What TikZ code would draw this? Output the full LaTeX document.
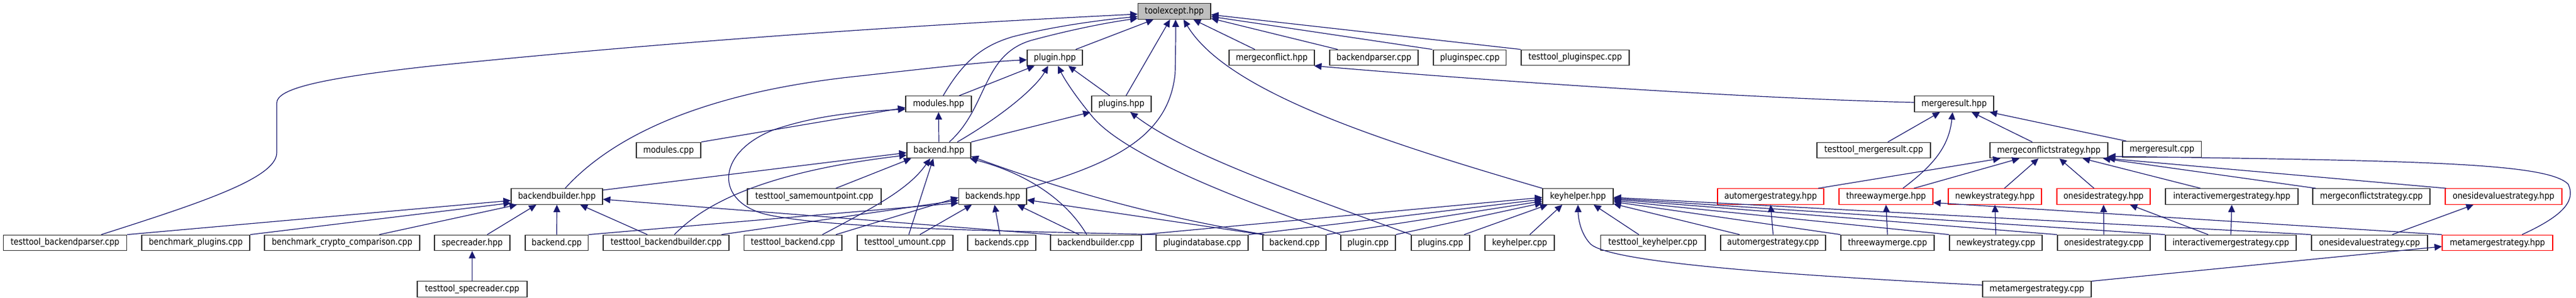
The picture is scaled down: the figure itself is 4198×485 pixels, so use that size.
\documentclass[tikz,border=0pt]{standalone}
\usepackage{fontspec}
\setmainfont{DejaVu Sans}[FakeStretch=0.88]
\usetikzlibrary{arrows.meta,calc}
\definecolor{edgec}{HTML}{191970}
\definecolor{boxc}{HTML}{303030}
\definecolor{fillg}{HTML}{BFBFBF}
\tikzset{
  filebox/.style={draw=boxc, line width=1.2pt, rectangle, minimum height=25.6pt, inner sep=0pt, fill=white, text=black, font=\fontsize{14.6pt}{17pt}\selectfont},
  redbox/.style={filebox, draw=red},
  inc/.style={draw=edgec, line width=1.2pt, -{Triangle[length=12pt,width=11pt]}}
}
\begin{document}
\begin{tikzpicture}[x=1pt,y=-1pt]
\fill[white] (0,0) rectangle (4198,485);
\useasboundingbox (0,0) rectangle (4198,485);
% row 0
\node[filebox, fill=fillg, minimum width=118.5pt] (toolexcept) at (1913.75,18.5) {toolexcept.hpp};
% row 1
\node[filebox, minimum width=90pt] (pluginh) at (1719,94) {plugin.hpp};
\node[filebox, minimum width=139pt] (mconf) at (2072.5,94) {mergeconflict.hpp};
\node[filebox, minimum width=144pt] (bparser) at (2239,94) {backendparser.cpp};
\node[filebox, minimum width=118.5pt] (pspec) at (2395.25,94) {pluginspec.cpp};
\node[filebox, minimum width=176pt] (ttpspec) at (2567,94) {testtool\_pluginspec.cpp};
% row 2
\node[filebox, minimum width=107pt] (modulesh) at (1529.5,169.5) {modules.hpp};
\node[filebox, minimum width=97pt] (pluginsh) at (1827.5,169.5) {plugins.hpp};
\node[filebox, minimum width=129pt] (mresh) at (3184.5,169.5) {mergeresult.hpp};
% row 3
\node[filebox, minimum width=105pt] (modcpp) at (1089.5,245) {modules.cpp};
\node[filebox, minimum width=104pt] (backendh) at (1530,245) {backend.hpp};
\node[filebox, minimum width=185pt] (ttmres) at (3053.5,245) {testtool\_mergeresult.cpp};
\node[filebox, minimum width=192pt] (mcsh) at (3339,245) {mergeconflictstrategy.hpp};
\node[filebox, minimum width=128.5pt] (mrescpp) at (3523.25,243.5) {mergeresult.cpp};
% row 4
\node[filebox, minimum width=149pt] (bbh) at (907.5,320.5) {backendbuilder.hpp};
\node[filebox, minimum width=218pt] (ttsmp) at (1327,320.5) {testtool\_samemountpoint.cpp};
\node[filebox, minimum width=110.5pt] (backendsh) at (1617.75,320.5) {backends.hpp};
\node[filebox, minimum width=115pt] (keyh) at (2571.5,320.5) {keyhelper.hpp};
\node[redbox, minimum width=173pt] (amh) at (2885.5,320.5) {automergestrategy.hpp};
\node[redbox, minimum width=153pt] (twh) at (3073.5,320.5) {threewaymerge.hpp};
\node[redbox, minimum width=152pt] (nkh) at (3251,320.5) {newkeystrategy.hpp};
\node[redbox, minimum width=152pt] (osh) at (3428,320.5) {onesidestrategy.hpp};
\node[filebox, minimum width=216pt] (imh) at (3637,320.5) {interactivemergestrategy.hpp};
\node[filebox, minimum width=191pt] (mcscpp) at (3864.5,320.5) {mergeconflictstrategy.cpp};
\node[redbox, minimum width=190pt] (osvh) at (4080,320.5) {onesidevaluestrategy.hpp};
% row 5
\node[filebox, minimum width=201.3pt] (ttbp) at (106,396) {testtool\_backendparser.cpp};
\node[filebox, minimum width=176pt] (benchp) at (319,396) {benchmark\_plugins.cpp};
\node[filebox, minimum width=253pt] (benchc) at (557.5,396) {benchmark\_crypto\_comparison.cpp};
\node[filebox, minimum width=123pt] (spech) at (769.5,396) {specreader.hpp};
\node[filebox, minimum width=102.5pt] (bcppa) at (907.25,396) {backend.cpp};
\node[filebox, minimum width=205pt] (ttbb) at (1085.5,396) {testtool\_backendbuilder.cpp};
\node[filebox, minimum width=159.5pt] (ttbackend) at (1292.25,396) {testtool\_backend.cpp};
\node[filebox, minimum width=156pt] (ttumount) at (1475,396) {testtool\_umount.cpp};
\node[filebox, minimum width=111pt] (backendscpp) at (1632.5,396) {backends.cpp};
\node[filebox, minimum width=148pt] (bbcpp) at (1786,396) {backendbuilder.cpp};
\node[filebox, minimum width=150pt] (plugdb) at (1959,396) {plugindatabase.cpp};
\node[filebox, minimum width=103pt] (bcppb) at (2109.5,396) {backend.cpp};
\node[filebox, minimum width=89pt] (plugincpp) at (2229.5,396) {plugin.cpp};
\node[filebox, minimum width=95pt] (pluginscpp) at (2347.5,396) {plugins.cpp};
\node[filebox, minimum width=113pt] (keycpp) at (2476.5,396) {keyhelper.cpp};
\node[filebox, minimum width=170.5pt] (ttkey) at (2693.75,396) {testtool\_keyhelper.cpp};
\node[filebox, minimum width=171pt] (amcpp) at (2889.5,396) {automergestrategy.cpp};
\node[filebox, minimum width=152pt] (twcpp) at (3076,396) {threewaymerge.cpp};
\node[filebox, minimum width=151pt] (nkcpp) at (3252.5,396) {newkeystrategy.cpp};
\node[filebox, minimum width=151pt] (oscpp) at (3428.5,396) {onesidestrategy.cpp};
\node[filebox, minimum width=213pt] (imcpp) at (3635.5,396) {interactivemergestrategy.cpp};
\node[filebox, minimum width=189pt] (osvcpp) at (3861.5,396) {onesidevaluestrategy.cpp};
\node[redbox, minimum width=180pt] (mmh) at (4070,396) {metamergestrategy.hpp};
% row 6
\node[filebox, minimum width=179pt] (ttspec) at (769.5,471.5) {testtool\_specreader.cpp};
\node[filebox, minimum width=177pt] (mmcpp) at (3319.5,471.5) {metamergestrategy.cpp};

% ---- edges to toolexcept.hpp
\draw[inc] ($(ttbp.north)+(59,0)$) .. controls (330,330) and (451,290) .. (451,249) -- (451,168) .. controls (451,145) and (520,128) .. (700,108) .. controls (1150,62) and (1550,38) .. ($(toolexcept.west)+(0,4.5)$);
\draw[inc] ($(modulesh.north)+(7.5,0)$) .. controls (1570,100) and (1600,75) .. (1650,60) .. controls (1720,42) and (1800,32) .. ($(toolexcept.west)+(0,8.5)$);
\draw[inc] ($(backendh.north)+(17,0)$) .. controls (1610,175) and (1600,90) .. (1680,66) .. controls (1750,47) and (1810,36) .. ($(toolexcept.west)+(0,11.5)$);
\draw[inc] ($(pluginh.north)+(34,0)$) -- ($(toolexcept.south)+(-34,0)$);
\draw[inc] ($(pluginsh.north)+(7.5,0)$) -- ($(toolexcept.south)+(-7,0)$);
\draw[inc] ($(backendsh.north east)+(-1,0)$) .. controls (1820,265) and (1905,220) .. (1915,120) .. controls (1916,80) and (1916,55) .. ($(toolexcept.south)+(2,0)$);
\draw[inc] (keyh.north west) .. controls (2250,230) and (2000,150) .. ($(toolexcept.south)+(15,0)$);
\draw[inc] ($(mconf.north)+(-27.5,0)$) -- ($(toolexcept.south)+(31,0)$);
\draw[inc] ($(bparser.north)+(-59,0)$) -- ($(toolexcept.east)+(0,11.5)$);
\draw[inc] ($(pspec.north)+(-61,0)$) -- ($(toolexcept.east)+(0,8.5)$);
\draw[inc] (ttpspec.north west) -- ($(toolexcept.east)+(0,5.5)$);

% ---- backendbuilder.hpp
\draw[inc] (ttbp.north east) -- ($(bbh.west)+(0,6.5)$);
\draw[inc] (benchp.north east) -- ($(bbh.west)+(0,10.5)$);
\draw[inc] ($(benchc.north)+(60.5,0)$) -- ($(bbh.south west)+(10,0)$);
\draw[inc] ($(spech.north)+(24.5,0)$) -- ($(bbh.south)+(-33.5,0)$);
\draw[inc] (bcppa.north) -- (bbh.south);
\draw[inc] ($(ttbb.north)+(-30.5,0)$) -- ($(bbh.south)+(38,0)$);
\draw[inc] ($(bbcpp.north west)+(2,0)$) -- ($(bbh.east)+(0,4.5)$);
\draw[inc] (ttspec.north) -- (spech.south);

% ---- plugin.hpp
\draw[inc] ($(bbh.north)+(13.5,0)$) .. controls (1000,220) and (1150,150) .. (1400,124) .. controls (1500,113) and (1600,101) .. ($(pluginh.west)+(0,3.6)$);
\draw[inc] ($(modulesh.north)+(33.5,0)$) -- ($(pluginh.south)+(-33,0)$);
\draw[inc] ($(backendh.north)+(30,0)$) .. controls (1640,185) and (1690,140) .. ($(pluginh.south)+(-11,0)$);
\draw[inc] ($(pluginsh.north)+(-19,0)$) -- ($(pluginh.south)+(22,0)$);
\draw[inc] (plugincpp.north west) .. controls (2000,320) and (1830,250) .. (1780,190) .. controls (1752,156) and (1735,130) .. ($(pluginh.south)+(5,0)$);

% ---- plugins.hpp
\draw[inc] (backendh.north east) -- ($(pluginsh.south)+(-50.5,0)$);
\draw[inc] (pluginscpp.north west) .. controls (2100,310) and (1930,250) .. ($(pluginsh.south)+(14.5,0)$);

% ---- modules.hpp
\draw[inc] (backendh.north) -- (modulesh.south);
\draw[inc] (modcpp.north east) -- ($(modulesh.west)+(0,6)$);
\draw[inc] ($(plugdb.north west)+(2,0)$) .. controls (1600,376) and (1350,372) .. (1250,350) .. controls (1165,330) and (1165,250) .. (1260,212) .. controls (1330,188) and (1400,182) .. ($(modulesh.west)+(0,8.5)$);

% ---- backend.hpp
\draw[inc] ($(bbh.east)+(0,-10.5)$) -- ($(backendh.west)+(0,4)$);
\draw[inc] ($(ttbb.north)+(13.5,0)$) .. controls (1150,330) and (1250,280) .. ($(backendh.west)+(0,8)$);
\draw[inc] ($(ttsmp.north)+(35,0)$) -- ($(backendh.south)+(-45,0)$);
\draw[inc] ($(ttbackend.north)+(48,0)$) .. controls (1420,340) and (1480,310) .. ($(backendh.south)+(-14,0)$);
\draw[inc] ($(ttumount.north)+(6,0)$) -- ($(backendh.south)+(-9,0)$);
\draw[inc] ($(bbcpp.north)+(-15,0)$) .. controls (1740,330) and (1680,285) .. ($(backendh.south east)+(-2,0)$);
\draw[inc] ($(bcppb.north west)+(3,0)$) .. controls (1900,355) and (1760,320) .. ($(backendh.east)+(0,10)$);

% ---- backends.hpp
\draw[inc] (bcppa.north east) -- ($(backendsh.west)+(0,10.5)$);
\draw[inc] ($(ttbb.north east)+(-13,0)$) -- ($(backendsh.west)+(0,6)$);
\draw[inc] ($(ttbackend.north)+(70,0)$) -- ($(backendsh.west)+(0,1.5)$);
\draw[inc] ($(ttumount.north)+(24,0)$) -- ($(backendsh.south)+(-34,0)$);
\draw[inc] ($(backendscpp.north)+(-3,0)$) -- ($(backendsh.south)+(3,0)$);
\draw[inc] ($(bbcpp.north)+(-27.5,0)$) -- ($(backendsh.south)+(40,0)$);
\draw[inc] (bcppb.north west) -- ($(backendsh.east)+(0,5.5)$);

% ---- keyhelper.hpp
\draw[inc] (bbcpp.north east) -- ($(keyh.west)+(0,1.5)$);
\draw[inc] (plugdb.north east) -- ($(keyh.west)+(0,4.5)$);
\draw[inc] (bcppb.north east) -- ($(keyh.west)+(0,7.5)$);
\draw[inc] (plugincpp.north east) -- ($(keyh.west)+(0,10.5)$);
\draw[inc] ($(pluginscpp.north)+(38.5,0)$) -- ($(keyh.south)+(-49.5,0)$);
\draw[inc] ($(keycpp.north)+(16.5,0)$) -- ($(keyh.south)+(-25.5,0)$);
\draw[inc] ($(ttkey.north)+(-23,0)$) -- ($(keyh.south)+(25.5,0)$);
\draw[inc] ($(amcpp.north)+(-54.5,0)$) -- ($(keyh.east)+(0,12)$);
\draw[inc] (twcpp.north west) -- ($(keyh.east)+(0,8.5)$);
\draw[inc] (nkcpp.north west) -- ($(keyh.east)+(0,6.5)$);
\draw[inc] (oscpp.north west) -- ($(keyh.east)+(0,4.5)$);
\draw[inc] (imcpp.north west) -- ($(keyh.east)+(0,3)$);
\draw[inc] (osvcpp.north west) -- ($(keyh.east)+(0,1.5)$);
\draw[inc] ($(mmcpp.west)+(0,-6.5)$) .. controls (2900,448) and (2625,428) .. (2592,398) .. controls (2575,380) and (2572,355) .. (keyh.south);

% ---- merge part
\draw[inc] ($(mresh.west)+(0,-2.5)$) .. controls (2900,162) and (2500,138) .. ($(mconf.south east)+(-1,0)$);
\draw[inc] ($(ttmres.north)+(23,0)$) -- ($(mresh.south)+(-23,0)$);
\draw[inc] ($(mcsh.north)+(-27,0)$) -- ($(mresh.south)+(28.5,0)$);
\draw[inc] ($(mrescpp.north)+(-58,0)$) -- ($(mresh.south)+(58,0)$);
\draw[inc] ($(twh.north)+(27.5,0)$) .. controls (3150,270) and (3176,240) .. ($(mresh.south)+(-2.5,0)$);
\draw[inc] ($(twh.north)+(45.5,0)$) -- ($(mcsh.south)+(-48,0)$);
\draw[inc] ($(amh.north)+(77.5,0)$) -- ($(mcsh.south)+(-79,0)$);
\draw[inc] ($(nkh.north)+(15.5,0)$) -- ($(mcsh.south)+(-17,0)$);
\draw[inc] ($(osh.north)+(-15.5,0)$) -- ($(mcsh.south)+(17,0)$);
\draw[inc] ($(imh.north)+(-51,0)$) -- ($(mcsh.south)+(55,0)$);
\draw[inc] ($(mcscpp.north)+(-90.5,0)$) -- ($(mcsh.south)+(88,0)$);
\draw[inc] ($(osvh.north west)+(2,0)$) -- ($(mcsh.south east)+(-1,0)$);
\draw[inc] ($(mmh.north)+(40,0)$) .. controls (4170,355) and (4200,330) .. (4185,300) .. controls (4150,266) and (3950,262) .. ($(mcsh.east)+(0,10)$);
\draw[inc] (amcpp.north) -- (amh.south);
\draw[inc] (twcpp.north) -- (twh.south);
\draw[inc] (nkcpp.north) -- (nkh.south);
\draw[inc] (oscpp.north) -- (osh.south);
\draw[inc] (imcpp.north) -- (imh.south);
\draw[inc] ($(osvcpp.north)+(37,0)$) -- ($(osvh.south)+(-49,0)$);
\draw[inc] ($(imcpp.north)+(-37,0)$) -- ($(osh.south)+(43,0)$);
\draw[inc] ($(mmcpp.east)+(0,-13)$) -- ($(mmh.west)+(0,6)$);
\draw[inc] (mmh.north west) -- ($(twh.east)+(0,10)$);
\end{tikzpicture}
\end{document}
